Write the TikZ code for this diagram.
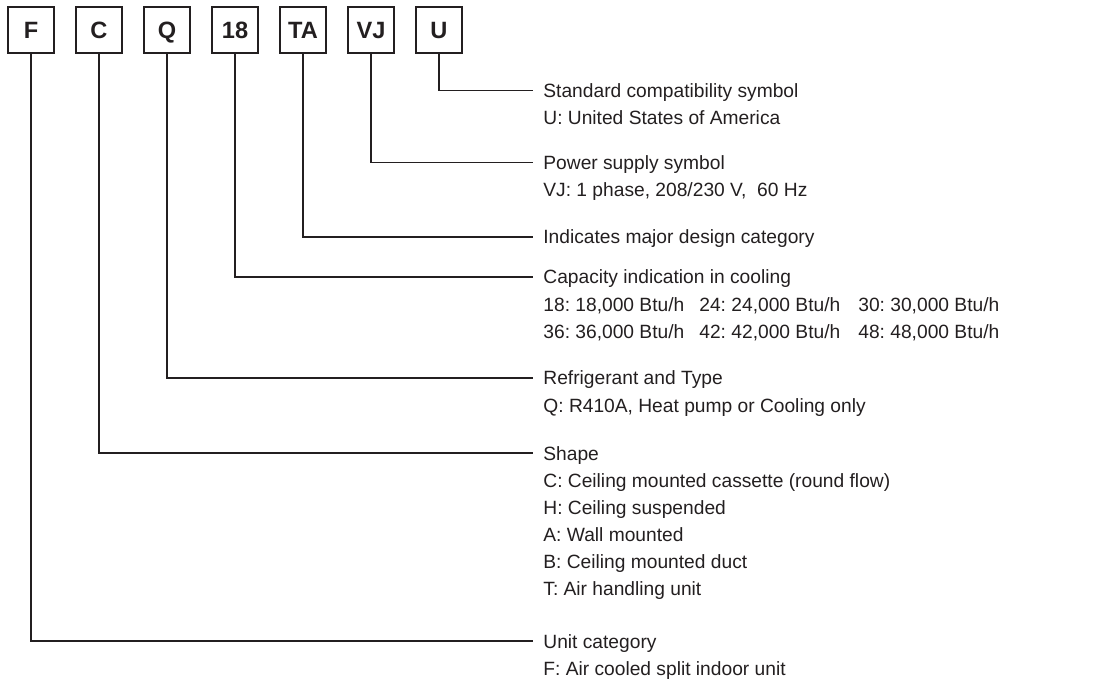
\documentclass[tikz,border=0pt]{standalone}
\usepackage{fontspec}
\setmainfont{Liberation Sans}
\usetikzlibrary{positioning}
\definecolor{inkgray}{RGB}{35,31,32}

\begin{document}
\frenchspacing
\begin{tikzpicture}[
    x=0.5pt, y=-0.5pt,
    % Node styles
    codebox/.style={
        rectangle, draw=inkgray, line width=0.65pt,
        minimum width=23pt, minimum height=23pt, inner sep=0pt,
        text height=8.45pt, text depth=0pt,
        font=\fontsize{11.8}{14}\selectfont\bfseries, text=inkgray
    },
    heading/.style={
        anchor=west, inner xsep=5pt, inner ysep=0pt,
        text height=7pt, text depth=0pt,
        font=\fontsize{9.6}{13.5}\selectfont, text=inkgray
    },
    detail/.style={
        anchor=north west, inner xsep=5pt, inner ysep=0pt, align=left,
        font=\fontsize{9.6}{13.5}\selectfont, text=inkgray
    },
    leader/.style={
        draw=inkgray, line width=0.6pt
    }
]
\useasboundingbox (0,0) rectangle (1095,683);

% --- Code boxes ---
\foreach \code/\name [count=\i from 0] in {F/unit, C/shape, Q/refr, 18/cap, TA/design, VJ/power, U/std}
    \node[codebox] (\name) at ({31+68*\i}, 30) {\code};

% --- Headings ---
\node[heading] (stdHead) at (533, 90.5) {Standard compatibility symbol};
\node[heading] (powerHead) at (533, 162.5) {Power supply symbol};
\node[heading] (designHead) at (533, 237) {Indicates major design category};
\node[heading] (capHead) at (533, 277) {Capacity indication in cooling};
\node[heading] (refrHead) at (533, 378) {Refrigerant and Type};
\node[heading] (shapeHead) at (533, 453) {Shape};
\node[heading] (unitHead) at (533, 641) {Unit category};

% --- Details ---
\node[detail] (stdText) at ([yshift=-4.05pt]stdHead.base west) {\strut U: United States of America};
\node[detail] (powerText) at ([yshift=-4.05pt]powerHead.base west) {\strut VJ: 1 phase, 208/230 V,\ \ 60 Hz};
\node[detail] (capText) at ([yshift=-4.05pt]capHead.base west) {
    \strut\makebox[78pt][l]{18: 18,000 Btu/h}\makebox[79.5pt][l]{24: 24,000 Btu/h}30: 30,000 Btu/h\\
    \makebox[78pt][l]{36: 36,000 Btu/h}\makebox[79.5pt][l]{42: 42,000 Btu/h}48: 48,000 Btu/h
};
\node[detail] (refrText) at ([yshift=-4.05pt]refrHead.base west) {\strut Q: R410A, Heat pump or Cooling only};
\node[detail] (shapeText) at ([yshift=-4.05pt]shapeHead.base west) {
    \strut C: Ceiling mounted cassette (round flow)\\
    H: Ceiling suspended\\
    A: Wall mounted\\
    B: Ceiling mounted duct\\
    T: Air handling unit
};
\node[detail] (unitText) at ([yshift=-4.05pt]unitHead.base west) {\strut F: Air cooled split indoor unit};

% --- Leaders ---
\draw[leader] (std.south) |- (stdHead.west);
\draw[leader] (power.south) |- (powerHead.west);
\draw[leader] (design.south) |- (designHead.west);
\draw[leader] (cap.south) |- (capHead.west);
\draw[leader] (refr.south) |- (refrHead.west);
\draw[leader] (shape.south) |- (shapeHead.west);
\draw[leader] (unit.south) |- (unitHead.west);

\end{tikzpicture}
\end{document}
